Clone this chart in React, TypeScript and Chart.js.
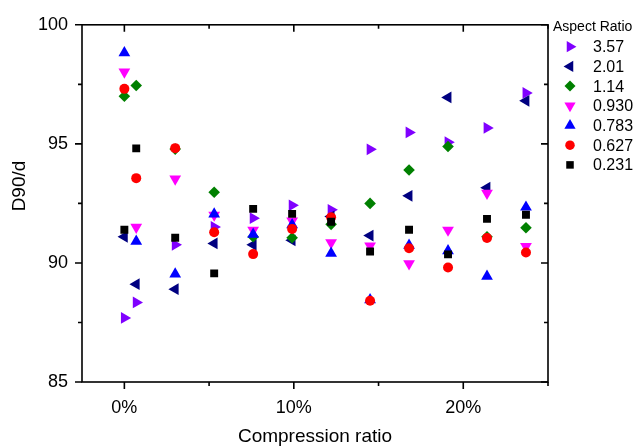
import React, { useEffect, useRef } from 'react';
import { Chart, registerables } from 'chart.js';
import { drawPoint } from 'chart.js/helpers';

Chart.register(...registerables);

// ---- Data ----
const compression = [0, 0.7, 3.0, 5.3, 7.6, 9.9, 12.2, 14.5, 16.8, 19.1, 21.4, 23.7];
const xTickValues = [0, 10, 20];
const xMinorTicks = [5, 15, 25];
const yTickValues = [85, 90, 95, 100];
const yMinorTicks = [87.5, 92.5, 97.5];
const legendTitle = 'Aspect Ratio';
const seriesLabels = ['3.57', '2.01', '1.14', '0.930', '0.783', '0.627', '0.231'];

const ar357 = [87.69, 88.34, 90.76, 91.51, 91.88, 92.42, 92.23, 94.77, 95.48, 95.07, 95.67, 97.14];
const ar201 = [91.10, 89.11, 88.90, 90.82, 90.76, 90.95, 91.95, 91.15, 92.82, 96.95, 93.16, 96.81];
const ar114 = [97.00, 97.45, 94.78, 92.97, 91.10, 91.06, 91.62, 92.50, 93.90, 94.89, 91.10, 91.48];
const ar0930 = [98.02, 91.50, 93.53, 92.01, 91.38, 91.76, 90.85, 90.72, 89.97, 91.38, 92.93, 90.69];
const ar0783 = [98.82, 90.91, 89.53, 92.05, 91.20, 91.60, 90.40, 88.45, 90.74, 90.51, 89.44, 92.34];
const ar0627 = [97.31, 93.56, 94.82, 91.29, 90.37, 91.43, 91.92, 88.41, 90.62, 89.81, 91.05, 90.44];
const ar0231 = [91.39, 94.81, 91.06, 89.56, 92.27, 92.06, 91.73, 90.48, 91.39, 90.36, 91.85, 92.02];

const seriesValues = [ar357, ar201, ar114, ar0930, ar0783, ar0627, ar0231];

// ---- Styles ----
const colors = ['#8000FF', '#000080', '#008000', '#FF00FF', '#0000FF', '#FF0000', '#000000'];
const pointStyles = ['triangle', 'triangle', 'rectRot', 'triangle', 'triangle', 'circle', 'rect'];
const rotations = [90, 270, 0, 180, 0, 0, 0];
const radii = [6.8, 6.8, 5.8, 6.8, 6.8, 5.0, 5.6];

const FONT = '"Liberation Sans", Arial, sans-serif';

const framePlugin = {
  id: 'frameTicks',
  beforeDatasetsDraw(chart: any) {
    const { ctx, chartArea: a, scales } = chart;
    const x = scales.x;
    const y = scales.y;
    const major = 7;
    const minor = 4;
    ctx.save();
    ctx.strokeStyle = '#000';
    ctx.lineWidth = 1.6;
    ctx.strokeRect(a.left, a.top, a.right - a.left, a.bottom - a.top);
    ctx.beginPath();
    xTickValues.forEach((v) => {
      const px = x.getPixelForValue(v);
      ctx.moveTo(px, a.bottom); ctx.lineTo(px, a.bottom + major);
      ctx.moveTo(px, a.top); ctx.lineTo(px, a.top + major);
    });
    xMinorTicks.forEach((v) => {
      const px = x.getPixelForValue(v);
      ctx.moveTo(px, a.bottom); ctx.lineTo(px, a.bottom + minor);
      ctx.moveTo(px, a.top); ctx.lineTo(px, a.top + minor);
    });
    yTickValues.forEach((v) => {
      const py = y.getPixelForValue(v);
      ctx.moveTo(a.left, py); ctx.lineTo(a.left - major, py);
      ctx.moveTo(a.right, py); ctx.lineTo(a.right - major, py);
    });
    yMinorTicks.forEach((v) => {
      const py = y.getPixelForValue(v);
      ctx.moveTo(a.left, py); ctx.lineTo(a.left - minor, py);
      ctx.moveTo(a.right, py); ctx.lineTo(a.right - minor, py);
    });
    ctx.stroke();
    ctx.restore();
  },
  afterDraw(chart: any) {
    const { ctx, chartArea: a } = chart;
    ctx.save();
    ctx.fillStyle = '#000';
    // axis titles
    ctx.font = `19px ${FONT}`;
    ctx.textAlign = 'center';
    ctx.textBaseline = 'middle';
    ctx.fillText('Compression ratio', (a.left + a.right) / 2, 437);
    ctx.save();
    ctx.translate(20, 186);
    ctx.rotate(-Math.PI / 2);
    ctx.fillText('D90/d', 0, 0);
    ctx.restore();

    // legend
    ctx.textAlign = 'left';
    ctx.font = `14px ${FONT}`;
    ctx.fillText(legendTitle, 553, 27);
    ctx.font = `16px ${FONT}`;
    chart.data.datasets.forEach((ds: any, i: number) => {
      const cy = 46.7 + i * 19.7;
      ctx.fillStyle = ds.backgroundColor;
      drawPoint(ctx, {
        pointStyle: ds.pointStyle,
        rotation: ds.pointRotation,
        radius: ds.pointRadius * 0.95,
        borderWidth: 0,
      } as any, 570, cy);
      ctx.fillStyle = '#000';
      ctx.fillText(ds.label, 593, cy + 1);
    });
    ctx.restore();
  },
};

export default function App() {
  const canvasRef = useRef<HTMLCanvasElement | null>(null);

  useEffect(() => {
    const canvas = canvasRef.current;
    if (!canvas) return;
    const datasets = seriesLabels.map((label, i) => ({
      label,
      data: compression.map((c, j) => ({ x: c, y: seriesValues[i][j] })),
      backgroundColor: colors[i],
      borderColor: colors[i],
      pointStyle: pointStyles[i],
      pointRotation: rotations[i],
      pointRadius: radii[i],
      pointBorderWidth: 0,
      showLine: false,
      order: seriesLabels.length - 1 - i,
    }));

    const chart = new Chart(canvas, {
      type: 'scatter',
      data: { datasets } as any,
      options: {
        animation: false,
        responsive: false,
        events: [],
        layout: { padding: { top: 18, right: 88, left: 0, bottom: 0 } },
        plugins: {
          legend: { display: false },
          tooltip: { enabled: false },
          title: { display: false },
        },
        scales: {
          x: {
            type: 'linear',
            min: -2.5,
            max: 25,
            grid: { display: false, drawTicks: false },
            border: { display: false },
            afterBuildTicks: (s: any) => { s.ticks = xTickValues.map((v) => ({ value: v })); },
            afterFit: (s: any) => { s.height = 64; },
            ticks: {
              padding: 15,
              color: '#000',
              font: { family: FONT, size: 18 },
              callback: (v: any) => `${v}%`,
              maxRotation: 0,
            },
          },
          y: {
            type: 'linear',
            min: 85,
            max: 100,
            grid: { display: false, drawTicks: false },
            border: { display: false },
            afterBuildTicks: (s: any) => { s.ticks = yTickValues.map((v) => ({ value: v })); },
            afterFit: (s: any) => { s.width = 82; },
            ticks: {
              padding: 14,
              color: '#000',
              font: { family: FONT, size: 18 },
            },
          },
        },
      } as any,
      plugins: [framePlugin],
    });
    return () => chart.destroy();
  }, []);

  return (
    <div style={{ position: 'absolute', left: 0, top: 0, width: 636, height: 446, background: '#fff' }}>
      <canvas ref={canvasRef} width={636} height={446} />
    </div>
  );
}
